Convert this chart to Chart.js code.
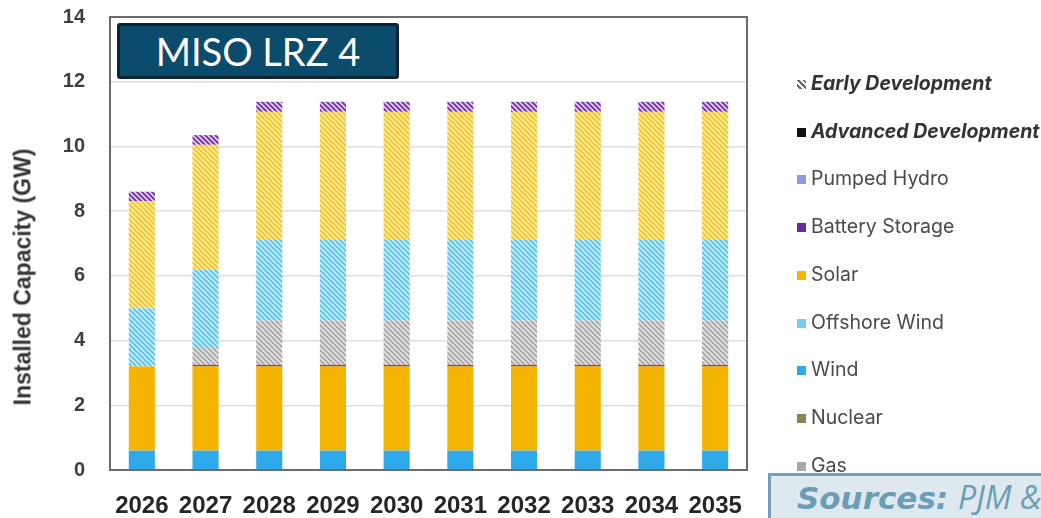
<!DOCTYPE html>
<html>
<head>
<meta charset="utf-8">
<script src="https://cdn.jsdelivr.net/npm/chart.js@4/dist/chart.umd.min.js"></script>
<style>
    html, body { margin: 0; padding: 0; background: #fff; }
    #wrap { position: relative; width: 1041px; height: 518px; overflow: hidden; font-family: "Liberation Sans", Arial, sans-serif; }
    #chartCanvas { position: absolute; left: 0; top: 0; }
    #titleBox {
        position: absolute; left: 117px; top: 23px; width: 276px; height: 50px;
        background: #0b4c6c; border: 3px solid #0f2333; border-radius: 3px;
        color: #fff; font-family: Lato, "Open Sans", sans-serif; font-size: 38px;
        line-height: 50px; text-align: center;
    }
    #yTitle {
        position: absolute; left: 23px; top: 277px; width: 0; height: 0;
    }
    #yTitle span {
        position: absolute; left: 0; top: 0; white-space: nowrap;
        transform: translate(-50%, -50%) rotate(-90deg);
        font: bold 23px "Liberation Sans", Arial, sans-serif; color: #333;
    }
    #legend { position: absolute; left: 797px; top: 70px; }
    .item { position: absolute; left: 0; height: 26px; line-height: 26px; white-space: nowrap; font-size: 19.5px; color: #4a4a4a; font-family: Inter, "Liberation Sans", sans-serif; }
    .item .box { display: inline-block; width: 9px; height: 9px; margin-right: 5px; vertical-align: 1px; }
    .item.em { font-weight: bold; font-style: italic; color: #333; }
    #sources {
        position: absolute; left: 768px; top: 473px; width: 300px; height: 60px;
        background: #dee9ef; border: 3px solid #6fa0b8;
        color: #6b9db5; font-family: "DejaVu Sans", sans-serif; font-size: 31px; font-style: italic;
    }
    #sources span { position: absolute; left: 26px; top: -1px; white-space: nowrap; }
    #sources .pjm { font-family: "Open Sans", sans-serif; font-size: 32px; }
</style>
</head>
<body>
<div id="wrap">
    <canvas id="chartCanvas" width="1041" height="518"></canvas>
    <div id="titleBox">MISO LRZ 4</div>
    <div id="yTitle"><span>Installed Capacity (GW)</span></div>
    <div id="legend"></div>
    <div id="sources"><span><b>Sources:</b> <span class="pjm" style="position:static">PJM &amp; MISO</span></span></div>
</div>
<script>
// data
var years = ["2026", "2027", "2028", "2029", "2030", "2031", "2032", "2033", "2034", "2035"];
var windAdv = [0.6, 0.6, 0.6, 0.6, 0.6, 0.6, 0.6, 0.6, 0.6, 0.6];
var solarAdv = [2.6, 2.6, 2.6, 2.6, 2.6, 2.6, 2.6, 2.6, 2.6, 2.6];
var nuclearAdv = [0, 0.05, 0.05, 0.05, 0.05, 0.05, 0.05, 0.05, 0.05, 0.05];
var gasEarly = [0, 0.55, 1.37, 1.37, 1.37, 1.37, 1.37, 1.37, 1.37, 1.37];
var offshoreEarly = [1.8, 2.4, 2.51, 2.51, 2.51, 2.51, 2.51, 2.51, 2.51, 2.51];
var solarEarly = [3.3, 3.85, 3.94, 3.94, 3.94, 3.94, 3.94, 3.94, 3.94, 3.94];
var batteryEarly = [0.3, 0.3, 0.31, 0.31, 0.31, 0.31, 0.31, 0.31, 0.31, 0.31];
var yTicks = [0, 2, 4, 6, 8, 10, 12, 14];

var legendItems = [
    { label: 'Early Development', kind: 'hatch', em: true },
    { label: 'Advanced Development', color: '#111', em: true },
    { label: 'Pumped Hydro', color: '#8f9be0' },
    { label: 'Battery Storage', color: '#6a2c9c' },
    { label: 'Solar', color: '#f5b400' },
    { label: 'Offshore Wind', color: '#72cdf0' },
    { label: 'Wind', color: '#2ea9ec' },
    { label: 'Nuclear', color: '#8c8450' },
    { label: 'Gas', color: '#a8a8a8' }
];

// diagonal hatch pattern
var makeHatch = function (color, bg) {
    var s = 5;
    var c = document.createElement('canvas');
    c.width = s; c.height = s;
    var g = c.getContext('2d');
    g.fillStyle = bg;
    g.fillRect(0, 0, s, s);
    g.strokeStyle = color;
    g.lineWidth = 2;
    g.beginPath();
    g.moveTo(-1, -1); g.lineTo(s + 1, s + 1);
    g.moveTo(-1, s - 1); g.lineTo(1, s + 1);
    g.moveTo(s - 1, -1); g.lineTo(s + 1, 1);
    g.stroke();
    return g.createPattern(c, 'repeat');
};

var plotBorder = {
    id: 'plotBorder',
    afterDraw: function (chart) {
        var a = chart.chartArea, ctx = chart.ctx;
        ctx.save();
        ctx.strokeStyle = '#6b6b6b';
        ctx.lineWidth = 2;
        ctx.strokeRect(a.left, a.top, a.right - a.left, a.bottom - a.top);
        ctx.restore();
    }
};

window.onload = function () {
    var legend = document.getElementById('legend');
    legendItems.forEach(function (it, i) {
        var d = document.createElement('div');
        d.className = 'item' + (it.em ? ' em' : '');
        d.style.top = (i * 47.7) + 'px';
        var b = document.createElement('span');
        b.className = 'box';
        if (it.kind === 'hatch') {
            b.style.background = 'repeating-linear-gradient(45deg, #fff 0 2px, #666 2px 4px)';
        } else {
            b.style.background = it.color;
        }
        d.appendChild(b);
        d.appendChild(document.createTextNode(it.label));
        legend.appendChild(d);
    });

    var ctx = document.getElementById('chartCanvas').getContext('2d');
    var common = { barPercentage: 0.82, categoryPercentage: 0.5, borderWidth: 0 };
    var ds = function (label, data, bg) {
        return Object.assign({ label: label, data: data, backgroundColor: bg }, common);
    };

    new Chart(ctx, {
        type: 'bar',
        data: {
            labels: years,
            datasets: [
                ds('Wind', windAdv, '#2fa9ea'),
                ds('Solar', solarAdv, '#f5b400'),
                ds('Nuclear', nuclearAdv, '#a0442a'),
                ds('Gas (Early)', gasEarly, makeHatch('#a9a9a9', '#ececec')),
                ds('Offshore Wind (Early)', offshoreEarly, makeHatch('#5ec6ee', '#d6f0fb')),
                ds('Solar (Early)', solarEarly, makeHatch('#f5c82a', '#fcefb8')),
                ds('Battery Storage (Early)', batteryEarly, makeHatch('#7a3aa6', '#eadcf3'))
            ]
        },
        options: {
            responsive: false,
            animation: false,
            layout: { padding: { left: 0, right: 294, top: 17, bottom: 0 } },
            plugins: { legend: { display: false }, tooltip: { enabled: false } },
            scales: {
                x: {
                    stacked: true,
                    grid: { display: false, drawTicks: false },
                    border: { display: false },
                    ticks: { color: '#262626', font: { size: 24, weight: 'bold', family: 'Liberation Sans' }, padding: 22, maxRotation: 0 },
                    afterFit: function (scale) { scale.height = 48; }
                },
                y: {
                    stacked: true,
                    min: 0,
                    max: 14,
                    afterBuildTicks: function (scale) {
                        scale.ticks = yTicks.map(function (v) { return { value: v }; });
                    },
                    grid: { color: '#dedede', lineWidth: 1.5, drawTicks: false },
                    border: { display: false },
                    ticks: { color: '#404040', font: { size: 20, weight: 'bold', family: 'Liberation Sans' }, padding: 25 },
                    afterFit: function (scale) {
                        scale.width = 110;
                        scale.paddingTop = 0;
                        scale.paddingBottom = 0;
                    }
                }
            }
        },
        plugins: [plotBorder]
    });
};
</script>
</body>
</html>
